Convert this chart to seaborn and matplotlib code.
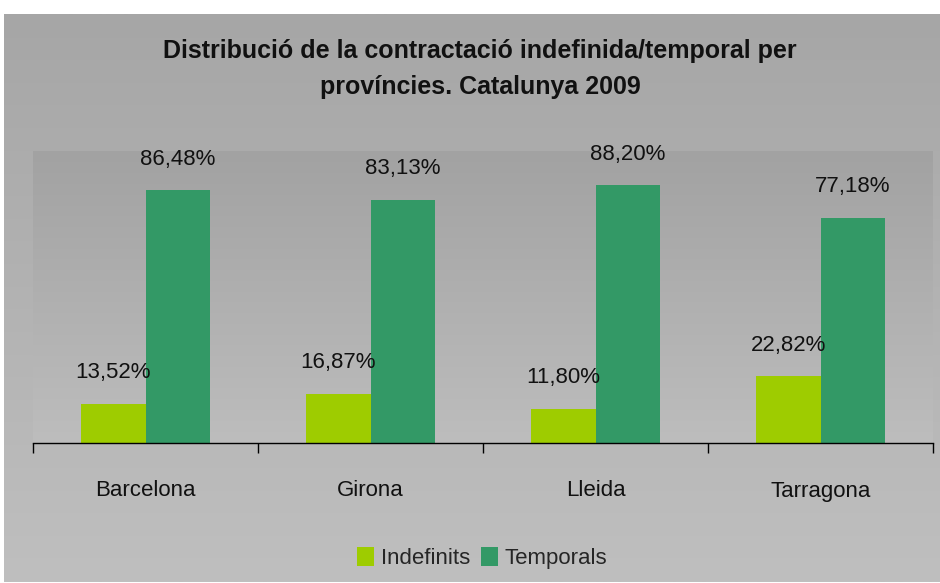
import numpy as np
import pandas as pd
import matplotlib
matplotlib.use("Agg")
import matplotlib.pyplot as plt
from matplotlib.patches import Patch
import seaborn as sns

provinces = ["Barcelona", "Girona", "Lleida", "Tarragona"]
indefinits = [13.52, 16.87, 11.80, 22.82]
temporals = [86.48, 83.13, 88.20, 77.18]
series_names = ["Indefinits", "Temporals"]
colors = ["#9ECC00", "#339966"]

df = pd.DataFrame({
    "provincia": provinces * 2,
    "tipus": [series_names[0]] * 4 + [series_names[1]] * 4,
    "valor": indefinits + temporals,
})

sns.set_theme(style="white")
plt.rcParams["font.family"] = ["Liberation Sans", "DejaVu Sans"]

W, H = 940, 583
fig = plt.figure(figsize=(W / 100, H / 100), dpi=100, facecolor="white")

# outer chart area with a soft vertical gradient
bg = fig.add_axes([4 / W, 1 - 582 / H, 936 / W, 568 / H], zorder=-2)
grad = np.linspace(0, 1, 256).reshape(-1, 1)
bg.imshow(grad, aspect="auto", cmap=matplotlib.colors.LinearSegmentedColormap.from_list(
    "outer", ["#a6a6a6", "#bfbfbf"]), extent=[0, 1, 0, 1], origin="upper")
bg.set_axis_off()

ax = fig.add_axes([33 / W, 1 - 443 / H, 900 / W, 292 / H])
ax.patch.set_alpha(0)
# plot area gradient
ax.imshow(grad, aspect="auto", cmap=matplotlib.colors.LinearSegmentedColormap.from_list(
    "inner", ["#a2a2a2", "#bdbdbd"]), extent=[-0.5, 3.5, 0, 100], origin="upper", zorder=0)

sns.barplot(data=df, x="provincia", y="valor", hue="tipus",
            palette=colors, width=0.573, gap=0, saturation=1, linewidth=0,
            ax=ax, legend=False, zorder=2)

ax.set_xlim(-0.5, 3.5)
ax.set_ylim(0, 100)
ax.set_xlabel("")
ax.set_ylabel("")
ax.set_yticks([])
for s in ["top", "right", "left"]:
    ax.spines[s].set_visible(False)
ax.spines["bottom"].set_color("black")
ax.spines["bottom"].set_linewidth(1.0)

ax.set_xticks(range(4))
ax.set_xticklabels(provinces, fontsize=16, color="#111111")
ax.tick_params(axis="x", which="major", length=0, pad=27, bottom=True)
ax.set_xticks([-0.5, 0.5, 1.5, 2.5, 3.5], minor=True)
ax.tick_params(axis="x", which="minor", length=7, width=1, color="black",
               direction="out", bottom=True)

for cont in ax.containers:
    for bar in cont:
        h = bar.get_height()
        ax.annotate(f"{h:.2f}%".replace(".", ","),
                    (bar.get_x() + bar.get_width() / 2, h),
                    xytext=(0, 15), textcoords="offset points",
                    ha="center", va="bottom", fontsize=16, color="#111111",
                    annotation_clip=False)

fig.text(480 / W, 1 - 69 / H,
         "Distribució de la contractació indefinida/temporal per\nprovíncies. Catalunya 2009",
         ha="center", va="center", fontsize=18, fontweight="bold",
         linespacing=1.62, color="#111111")

handles = [Patch(facecolor=c, edgecolor="none") for c in colors]
fig.legend(handles, series_names, loc="center", bbox_to_anchor=(482 / W, 1 - 558 / H),
           ncol=2, frameon=False, fontsize=16, handlelength=0.75, handleheight=0.9,
           handletextpad=0.3, columnspacing=0.5)

fig.savefig("out.png", dpi=100, facecolor="white")
